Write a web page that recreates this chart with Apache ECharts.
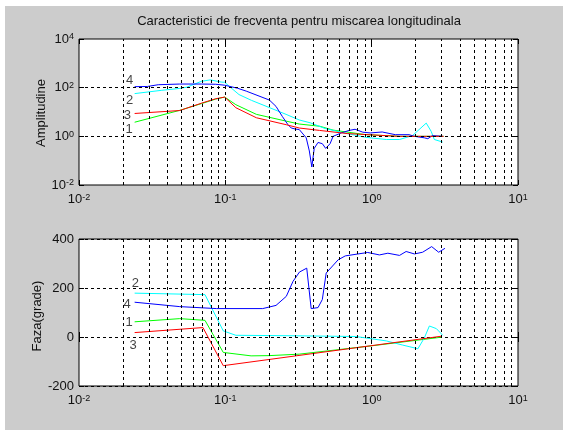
<!DOCTYPE html>
<html>
<head>
<meta charset="utf-8">
<script src="https://cdn.jsdelivr.net/npm/echarts@6/dist/echarts.min.js"></script>
<style>
  html, body { margin: 0; padding: 0; background: #ffffff; }
  #chart { width: 563px; height: 430px; }
</style>
</head>
<body>
<div id="chart"></div>
<script>
// Bode-style frequency response of the longitudinal motion, four transfer functions.

// Amplitude curves (frequency, amplitude)
const ampFreq1 = [0.024, 0.0488, 0.0686, 0.0859, 0.099, 0.118, 0.163, 0.261, 0.32, 0.442, 0.545, 0.91, 1.55, 3.1];
const ampVal1  = [3.8, 11.7, 22, 34, 41, 20, 8, 4.2, 3.2, 2.6, 1.8, 1.17, 1.0, 1.0];

const ampFreq2 = [0.024, 0.0368, 0.0488, 0.0547, 0.0686, 0.0789, 0.0936, 0.099, 0.108, 0.124, 0.151, 0.201, 0.26, 0.32, 0.38, 0.48, 0.68, 0.91, 1.26, 1.55, 1.9, 2.11, 2.36, 2.55, 2.68, 3.06];
const ampVal2  = [57, 78, 93, 105, 182, 209, 170, 166, 105, 52, 30, 15, 8, 4.7, 3.6, 2.1, 1.3, 0.91, 0.74, 0.74, 1.07, 1.9, 3.5, 1.6, 0.74, 0.58];

const ampFreq3 = [0.024, 0.0488, 0.0686, 0.0859, 0.099, 0.118, 0.163, 0.261, 0.32, 0.44, 0.68, 1.55, 3.1];
const ampVal3  = [8.7, 11.5, 23, 35, 41, 15, 5.8, 3.0, 2.2, 1.75, 1.3, 1.0, 1.0];

const ampFreq4 = [0.024, 0.0293, 0.0348, 0.0488, 0.0686, 0.0859, 0.099, 0.121, 0.139, 0.2, 0.222, 0.245, 0.268, 0.282, 0.3, 0.32, 0.357, 0.375, 0.39, 0.405, 0.43, 0.46, 0.485, 0.52, 0.545, 0.62, 0.7, 0.77, 0.87, 0.98, 1.18, 1.45, 1.8, 1.96, 2.29, 2.42, 2.6, 3.06];
const ampVal4  = [110, 112, 132, 141, 141, 138, 126, 95, 72, 31, 17, 6.6, 3.0, 2.2, 2.0, 1.9, 0.87, 0.25, 0.055, 0.32, 0.56, 0.5, 0.32, 0.5, 1.0, 1.38, 1.74, 1.95, 1.48, 1.38, 1.51, 1.17, 1.17, 1.0, 0.87, 0.8, 1.07, 1.0];

// Phase curves (frequency, degrees)
const phFreq1 = [0.024, 0.0488, 0.0726, 0.0968, 0.15, 0.2, 0.32, 1.0, 2.98];
const phVal1  = [62, 75, 68, -63, -77, -76, -70, -36, -1];

const phFreq2 = [0.024, 0.0726, 0.0968, 0.118, 0.3, 0.78, 1.26, 1.63, 2.07, 2.29, 2.48, 2.77, 3.06];
const phVal2  = [179, 173, 25, 7, 5, 2, -16, -33, -48, -4, 45, 34, 7];

const phFreq3 = [0.024, 0.0703, 0.0968, 2.98];
const phVal3  = [18, 38.5, -117, 3];

const phFreq4 = [0.024, 0.0488, 0.087, 0.18, 0.222, 0.261, 0.29, 0.321, 0.36, 0.386, 0.43, 0.46, 0.489, 0.59, 0.66, 0.94, 1.13, 1.29, 1.55, 1.72, 1.96, 2.23, 2.57, 2.87, 3.17];
const phVal4  = [142, 124, 116, 116, 129, 166, 227, 265, 281, 116, 120, 153, 261, 315, 331, 345, 335, 342, 333, 349, 339, 346, 369, 346, 362];

// Curve identifiers written beside the curve starts
const ampTagText = ['4', '2', '3', '1'];
const ampTagFreq = [0.0222, 0.0222, 0.0214, 0.0220];
const ampTagVal  = [206, 29, 7.5, 1.95];

const phTagText = ['2', '4', '1', '3'];
const phTagFreq = [0.0243, 0.0213, 0.0220, 0.0234];
const phTagVal  = [220, 131, 60, -33];

// Log-decade grid positions on the frequency axis
const freqGrid = [0.02, 0.03, 0.04, 0.05, 0.06, 0.07, 0.08, 0.09, 0.1,
                  0.2, 0.3, 0.4, 0.5, 0.6, 0.7, 0.8, 0.9, 1,
                  2, 3, 4, 5, 6, 7, 8, 9];

// Major amplitude levels (every second decade)
const ampGrid = [1, 100];

const titleText = 'Caracteristici de frecventa pentru miscarea longitudinala';
const ampName = 'Amplitudine';
const phName = 'Faza(grade)';

const FONT = '"Liberation Sans", Arial, Helvetica, sans-serif';
const TXT = '#111';
const COLORS = { 1: '#00ff00', 2: '#00ffff', 3: '#ff0000', 4: '#0000ff' };

const zip = (xs, ys) => xs.map((x, i) => [x, ys[i]]);

const powRich = {
  b: { fontSize: 13, fontFamily: FONT, color: TXT, lineHeight: 13, verticalAlign: 'bottom' },
  s: { fontSize: 9, fontFamily: FONT, color: TXT, lineHeight: 9, verticalAlign: 'top', padding: [0, 0, 8, 0] }
};
const powLabel = v => '{b|10}{s|' + Math.round(Math.log10(v)) + '}';
// amplitude axis labels only on even decades
const powLabelEven = v => {
  const e = Math.round(Math.log10(v));
  return (e % 2 === 0) ? '{b|10}{s|' + e + '}' : '';
};

const dashed = { color: '#000', width: 1, type: [3, 3] };
const tickStyle = { show: true, inside: true, length: 5, lineStyle: { color: '#000' } };

function freqAxis(gridIndex, position, labels) {
  return {
    type: 'log', logBase: 10, gridIndex, position, min: 0.01, max: 10,
    axisLine: { show: false },
    axisTick: tickStyle,
    splitLine: { show: false },
    axisLabel: labels
      ? { show: true, margin: 8, formatter: powLabel, rich: powRich }
      : { show: false }
  };
}

const yAxes = [
  {
    type: 'log', logBase: 10, gridIndex: 0, position: 'left', min: 0.01, max: 10000, interval: 2,
    axisLine: { show: false },
    axisTick: tickStyle,
    splitLine: { show: false },
    axisLabel: { show: true, margin: 5, formatter: powLabelEven, rich: powRich }
  },
  {
    type: 'log', logBase: 10, gridIndex: 0, position: 'right', min: 0.01, max: 10000, interval: 2,
    axisLine: { show: false },
    axisTick: tickStyle,
    splitLine: { show: false }, axisLabel: { show: false }
  },
  {
    type: 'value', gridIndex: 1, position: 'left', min: -200, max: 400, interval: 200,
    axisLine: { show: false },
    axisTick: tickStyle,
    splitLine: { show: true, lineStyle: dashed },
    axisLabel: { show: true, margin: 5, color: TXT, fontSize: 13, fontFamily: FONT }
  },
  {
    type: 'value', gridIndex: 1, position: 'right', min: -200, max: 400, interval: 200,
    axisLine: { show: false },
    axisTick: tickStyle,
    splitLine: { show: false }, axisLabel: { show: false }
  }
];

function curve(xi, yi, freqs, vals, key) {
  return {
    type: 'line', xAxisIndex: xi, yAxisIndex: yi, data: zip(freqs, vals),
    showSymbol: false, symbol: 'none', smooth: false, silent: true, z: 3,
    lineStyle: { color: COLORS[key], width: 1 }, animation: false
  };
}

function gridLines(xi, yi, levels) {
  const lines = freqGrid.map(f => ({ xAxis: f }));
  (levels || []).forEach(v => lines.push({ yAxis: v }));
  return {
    type: 'line', xAxisIndex: xi, yAxisIndex: yi, data: [], silent: true, z: 1,
    markLine: {
      silent: true, symbol: 'none', animation: false,
      label: { show: false },
      lineStyle: dashed,
      data: lines
    }
  };
}

function tags(xi, yi, freqs, vals, texts) {
  return {
    type: 'scatter', xAxisIndex: xi, yAxisIndex: yi, symbolSize: 0, silent: true, z: 4,
    data: freqs.map((f, i) => ({ value: [f, vals[i]], name: texts[i] })),
    label: {
      show: true, position: 'inside', formatter: p => p.name,
      color: TXT, fontSize: 13, fontFamily: FONT
    },
    animation: false
  };
}

const option = {
  animation: false,
  backgroundColor: '#ffffff',
  grid: [
    { left: 79, top: 39, width: 439, height: 146, show: true, backgroundColor: '#ffffff', borderColor: '#000', borderWidth: 1 },
    { left: 79, top: 239, width: 439, height: 147, show: true, backgroundColor: '#ffffff', borderColor: '#000', borderWidth: 1 }
  ],
  xAxis: [
    freqAxis(0, 'bottom', true),
    freqAxis(0, 'top', false),
    freqAxis(1, 'bottom', true),
    freqAxis(1, 'top', false)
  ],
  yAxis: yAxes,
  graphic: [
    { type: 'rect', left: 5, top: 6, shape: { width: 558, height: 424 }, style: { fill: '#cccccc' }, z: -10, silent: true },
    { type: 'text', x: 299, y: 21, style: { text: titleText, fill: TXT, font: '13px ' + FONT, align: 'center', verticalAlign: 'middle' }, silent: true },
    { type: 'text', x: 41, y: 113, rotation: Math.PI / 2, style: { text: ampName, fill: TXT, font: '13px ' + FONT, align: 'center', verticalAlign: 'middle' }, silent: true },
    { type: 'text', x: 37, y: 316, rotation: Math.PI / 2, style: { text: phName, fill: TXT, font: '13px ' + FONT, align: 'center', verticalAlign: 'middle' }, silent: true }
  ],
  series: [
    gridLines(0, 0, ampGrid),
    gridLines(2, 2),
    curve(0, 0, ampFreq1, ampVal1, 1),
    curve(0, 0, ampFreq2, ampVal2, 2),
    curve(0, 0, ampFreq4, ampVal4, 4),
    curve(0, 0, ampFreq3, ampVal3, 3),
    curve(2, 2, phFreq1, phVal1, 1),
    curve(2, 2, phFreq2, phVal2, 2),
    curve(2, 2, phFreq4, phVal4, 4),
    curve(2, 2, phFreq3, phVal3, 3),
    tags(0, 0, ampTagFreq, ampTagVal, ampTagText),
    tags(2, 2, phTagFreq, phTagVal, phTagText)
  ]
};

const chart = echarts.init(document.getElementById('chart'), null, { renderer: 'canvas' });
chart.setOption(option);
</script>
</body>
</html>
